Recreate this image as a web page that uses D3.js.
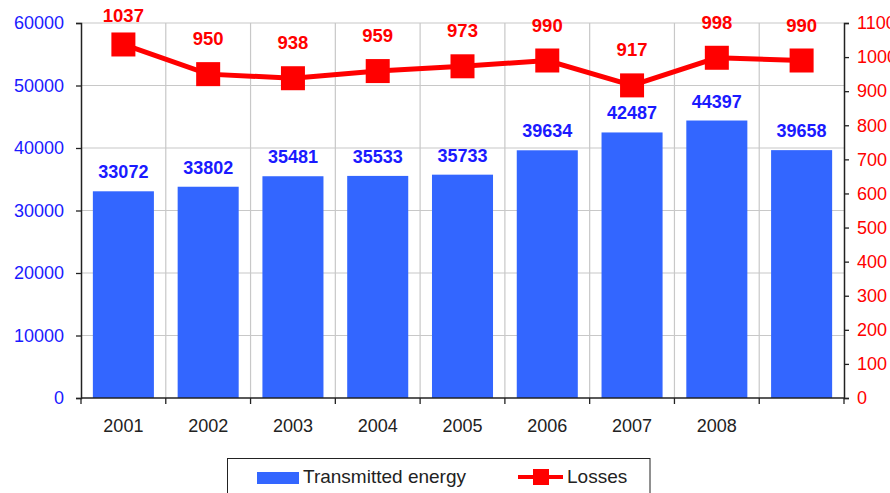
<!DOCTYPE html>
<html>
<head>
<meta charset="utf-8">
<script src="https://cdn.jsdelivr.net/npm/d3@7"></script>
<style>
  html, body { margin: 0; padding: 0; background: #fff; }
  svg { display: block; font-family: "Liberation Sans", Arial, sans-serif; }
</style>
</head>
<body>
<svg id="chart" width="890" height="493"></svg>
<script>
const years = ["2001", "2002", "2003", "2004", "2005", "2006", "2007", "2008", ""];
const transmitted = [33072, 33802, 35481, 35533, 35733, 39634, 42487, 44397, 39658];
const losses = [1037, 950, 938, 959, 973, 990, 917, 998, 990];
const leftTicks = [0, 10000, 20000, 30000, 40000, 50000, 60000];
const rightTicks = [0, 100, 200, 300, 400, 500, 600, 700, 800, 900, 1000, 1100];

const svg = d3.select("#chart");
const L = 81, R = 844, T = 23, B = 398;

const x = d3.scaleBand().domain(d3.range(years.length)).range([L, R]).paddingInner(0).paddingOuter(0);
const yL = d3.scaleLinear().domain([0, 60000]).range([B, T]);
const yR = d3.scaleLinear().domain([0, 1100]).range([B, T]);

const gridColor = "#c8c8c8";
// horizontal gridlines
svg.append("g").selectAll("line").data(leftTicks.filter(d => d > 0)).join("line")
  .attr("x1", L).attr("x2", R).attr("y1", d => yL(d)).attr("y2", d => yL(d))
  .attr("stroke", gridColor).attr("stroke-width", 1.2);
// vertical gridlines at category boundaries
svg.append("g").selectAll("line").data(d3.range(1, years.length)).join("line")
  .attr("x1", d => x(d)).attr("x2", d => x(d)).attr("y1", T).attr("y2", B)
  .attr("stroke", gridColor).attr("stroke-width", 1.2);

// bars
const bw = x.bandwidth() * 0.72;
svg.append("g").selectAll("rect").data(transmitted).join("rect")
  .attr("x", (d, i) => x(i) + (x.bandwidth() - bw) / 2)
  .attr("width", bw)
  .attr("y", d => yL(d))
  .attr("height", d => B - yL(d))
  .attr("fill", "#3366ff");

// bar labels
svg.append("g").selectAll("text").data(transmitted).join("text")
  .attr("x", (d, i) => x(i) + x.bandwidth() / 2)
  .attr("y", d => yL(d) - 13)
  .attr("text-anchor", "middle")
  .attr("font-size", "18px").attr("font-weight", "bold")
  .attr("fill", "#1a1aff")
  .text(d => d);

// axes
const axisColor = "#222";
const gLeft = svg.append("g").attr("transform", `translate(${L},0)`)
  .call(d3.axisLeft(yL).tickValues(leftTicks).tickSize(5).tickPadding(12).tickFormat(d3.format("d")));
gLeft.select(".domain").attr("stroke", axisColor).attr("stroke-width", 1.5);
gLeft.selectAll(".tick line").attr("stroke", axisColor).attr("stroke-width", 1.3);
gLeft.selectAll(".tick text").attr("fill", "#1a1aff").attr("font-size", "18px")
  .attr("font-family", "Liberation Sans, Arial, sans-serif");

const gRight = svg.append("g").attr("transform", `translate(${R},0)`)
  .call(d3.axisRight(yR).tickValues(rightTicks).tickSize(5).tickPadding(8).tickFormat(d3.format("d")));
gRight.select(".domain").attr("stroke", axisColor).attr("stroke-width", 1.5);
gRight.selectAll(".tick line").attr("stroke", axisColor).attr("stroke-width", 1.3);
gRight.selectAll(".tick text").attr("fill", "#ff0000").attr("font-size", "18px")
  .attr("font-family", "Liberation Sans, Arial, sans-serif");

// bottom axis line
svg.append("line").attr("x1", L).attr("x2", R).attr("y1", B).attr("y2", B)
  .attr("stroke", axisColor).attr("stroke-width", 1.5);
// bottom ticks at boundaries
svg.append("g").selectAll("line").data(d3.range(0, years.length + 1)).join("line")
  .attr("x1", d => L + d * x.step()).attr("x2", d => L + d * x.step())
  .attr("y1", B).attr("y2", B + 6)
  .attr("stroke", axisColor).attr("stroke-width", 1.3);
// year labels
svg.append("g").selectAll("text").data(years).join("text")
  .attr("x", (d, i) => x(i) + x.bandwidth() / 2)
  .attr("y", 432)
  .attr("text-anchor", "middle")
  .attr("font-size", "18px").attr("fill", "#222")
  .text(d => d);

// losses line
const cx = i => x(i) + x.bandwidth() / 2;
const line = d3.line().x((d, i) => cx(i)).y(d => yR(d));
svg.append("path").datum(losses).attr("d", line)
  .attr("fill", "none").attr("stroke", "#ff0000").attr("stroke-width", 5);
const ms = 24;
svg.append("g").selectAll("rect").data(losses).join("rect")
  .attr("x", (d, i) => cx(i) - ms / 2).attr("y", d => yR(d) - ms / 2)
  .attr("width", ms).attr("height", ms).attr("fill", "#ff0000");
svg.append("g").selectAll("text").data(losses).join("text")
  .attr("x", (d, i) => cx(i))
  .attr("y", d => Math.max(yR(d) - 29, 22))
  .attr("text-anchor", "middle")
  .attr("font-size", "18.5px").attr("font-weight", "bold")
  .attr("fill", "#ff0000")
  .text(d => d);

// legend
const lg = svg.append("g");
lg.append("rect").attr("x", 227.5).attr("y", 458.5).attr("width", 422.5).attr("height", 40)
  .attr("fill", "#fff").attr("stroke", "#222").attr("stroke-width", 1);
lg.append("rect").attr("x", 257).attr("y", 472).attr("width", 42).attr("height", 12).attr("fill", "#3366ff");
lg.append("text").attr("x", 303).attr("y", 483).attr("font-size", "19px").attr("fill", "#222").text("Transmitted energy");
lg.append("line").attr("x1", 518).attr("x2", 563).attr("y1", 477).attr("y2", 477)
  .attr("stroke", "#ff0000").attr("stroke-width", 4);
lg.append("rect").attr("x", 533).attr("y", 469).attr("width", 16).attr("height", 16).attr("fill", "#ff0000");
lg.append("text").attr("x", 567).attr("y", 483).attr("font-size", "19px").attr("fill", "#222").text("Losses");
</script>
</body>
</html>
